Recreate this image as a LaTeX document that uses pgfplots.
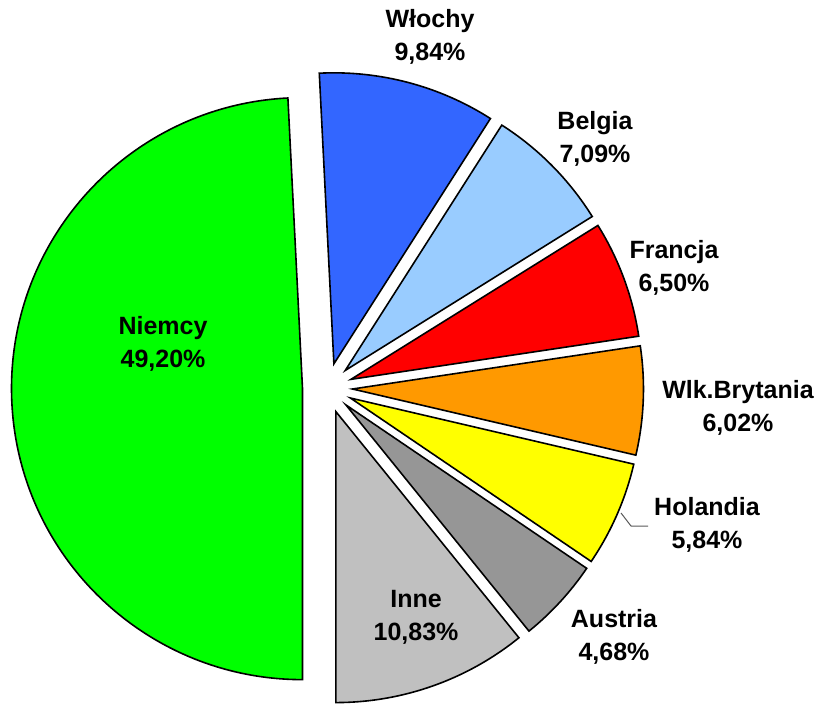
\documentclass[border=0pt]{standalone}
\usepackage{fontspec}
\setmainfont{Liberation Sans}
\usepackage{pgfplots}
\pgfplotsset{compat=1.18}
\definecolor{cInne}{HTML}{C0C0C0}
\definecolor{cAustria}{HTML}{969696}
\definecolor{cHolandia}{HTML}{FFFF00}
\definecolor{cWlk}{HTML}{FF9900}
\definecolor{cFrancja}{HTML}{FF0000}
\definecolor{cBelgia}{HTML}{99CCFF}
\definecolor{cWlochy}{HTML}{3366FF}
\definecolor{cNiemcy}{HTML}{00FF00}
\tikzset{lab/.style={font=\fontsize{25}{33}\selectfont\bfseries, align=center, inner sep=0pt}}
% pie geometry: centre, radius, explosion (axis units = pt)
\newcommand\cx{327.5}
\newcommand\cy{314}
\newcommand\rad{291}
\newcommand\expl{25}
\newcommand\aStart{270}
\newcommand\pieslice[2]{%
  \pgfmathsetmacro\aEnd{\aStart+3.6*#1}%
  \pgfmathsetmacro\aMid{(\aStart+\aEnd)/2}%
  \pgfmathsetmacro\vx{\cx+\expl*cos(\aMid)}%
  \pgfmathsetmacro\vy{\cy+\expl*sin(\aMid)}%
  \edef\temp{\noexpand\draw[fill=#2,line width=1.6pt,line join=miter]
    (axis cs:\vx,\vy) -- ++(\aStart:\rad pt)
    arc[start angle=\aStart,end angle=\aEnd,radius=\rad pt] -- cycle;}%
  \temp
  \global\let\aStart\aEnd}
\begin{document}
\begin{tikzpicture}
\begin{axis}[hide axis, scale only axis, width=821pt, height=702pt,
  xmin=0, xmax=821, ymin=0, ymax=702, clip=false]
\path (axis cs:0,0) rectangle (axis cs:821,702);
% values in %, clockwise order from the bottom
\pieslice{10.83}{cInne}
\pieslice{4.68}{cAustria}
\pieslice{5.84}{cHolandia}
\pieslice{6.02}{cWlk}
\pieslice{6.50}{cFrancja}
\pieslice{7.09}{cBelgia}
\pieslice{9.84}{cWlochy}
\pieslice{49.20}{cNiemcy}
\draw[gray!70!black, line width=1pt] (axis cs:621,189) -- (axis cs:631,176) -- (axis cs:648,176);
\node[lab] at (axis cs:430,665) {Włochy\\9,84\%};
\node[lab] at (axis cs:595,563) {Belgia\\7,09\%};
\node[lab] at (axis cs:674,434) {Francja\\6,50\%};
\node[lab] at (axis cs:738,294) {Wlk.Brytania\\6,02\%};
\node[lab] at (axis cs:707,177) {Holandia\\5,84\%};
\node[lab] at (axis cs:614,65) {Austria\\4,68\%};
\node[lab] at (axis cs:416,85) {Inne\\10,83\%};
\node[lab] at (axis cs:163,358) {Niemcy\\49,20\%};
\end{axis}
\end{tikzpicture}
\end{document}
